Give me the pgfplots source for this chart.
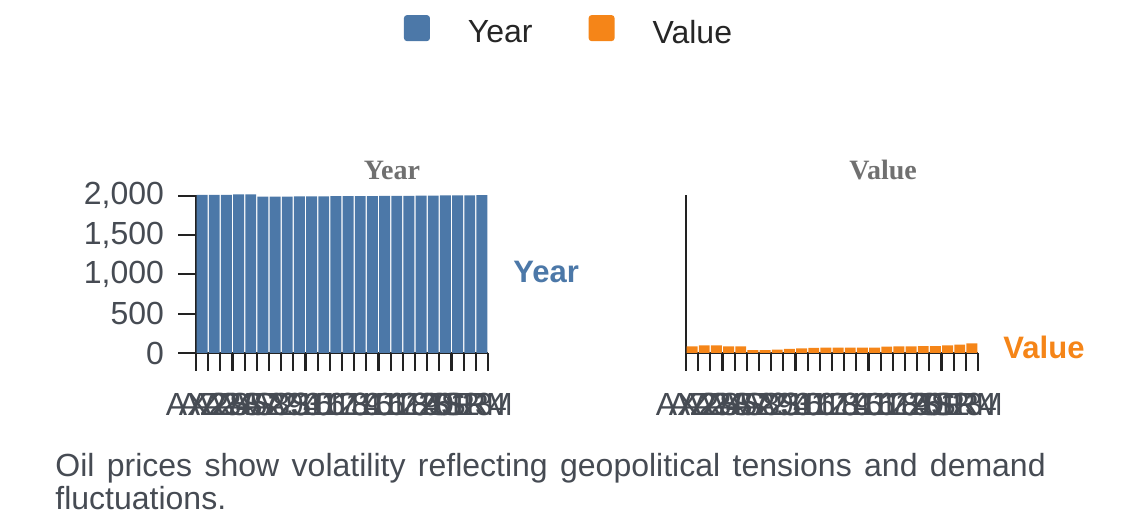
\documentclass[border=0pt]{standalone}
\usepackage{fontspec}
\setmainfont{Liberation Sans}
\newfontfamily\serifb{Liberation Serif}
\usepackage{pgfplots}
\usepackage{pgfplotstable}
\pgfplotsset{compat=1.18}
\definecolor{yblue}{HTML}{4C78A8}
\definecolor{vorange}{HTML}{F58518}
\definecolor{txtgray}{HTML}{464B53}
\definecolor{titlegray}{HTML}{707070}
\definecolor{axgray}{HTML}{222222}

\pgfplotstableread{
idx year value
0 2008 85
1 2009 98
2 2010 98
3 2016 85
4 2017 85
5 1986 38
6 1987 38
7 1988 42
8 1989 51
9 1990 60
10 1991 64
11 1992 67
12 1993 67
13 1994 67
14 1995 68
15 1996 68
16 1997 80
17 1998 85
18 2000 85
19 2001 86
20 2002 86
21 2003 98
22 2004 105
23 2005 123
}\oildata

\pgfplotsset{panel/.style={
  scale only axis, width=146pt, height=79pt,
  xmin=-0.5, xmax=23.5, ymin=0, ymax=2008,
  axis x line*=bottom, axis y line*=left,
  axis line style={line width=1.25pt, color=axgray, -},
  tick align=outside, major tick length=9pt,
  tick style={line width=1.1pt, color=axgray},
  xtick={-0.5,0.5,1.5,2.5,3.5,4.5,5.5,6.5,7.5,8.5,9.5,10.5,11.5,12.5,13.5,14.5,15.5,16.5,17.5,18.5,19.5,20.5,21.5,22.5,23.5},
  xticklabels={AX2,AZ2,A2S,A3S,A4S,A52,A72,A8S,A93,210,311,412,513,614,715,816,917,018,119,220,3S1,4S2,5R3,SR4,RM},
  xticklabel style={font=\fontsize{16}{19}\selectfont, text=txtgray, yshift=-7.5pt},
  yticklabel style={font=\fontsize{16}{19}\selectfont, text=txtgray, xshift=-3.5pt},
  scaled y ticks=false,
  /pgf/number format/1000 sep={,},
  /pgf/number format/assume math mode=true,
  clip=false,
}}

\begin{document}
\begin{tikzpicture}
\path[use as bounding box] (0,0) rectangle (570pt,264pt);

\begin{axis}[panel, at={(98pt,87.5pt)}, anchor=south west,
  ytick={0,500,1000,1500,2000},
  legend style={at={(1.274,2.04)}, anchor=center, draw=none, fill=none,
    inner sep=0pt, outer sep=0pt, legend columns=2,
    font=\fontsize{16}{19}\selectfont, text=black!85,
    nodes={inner sep=0pt},
    /tikz/every odd column/.append style={column sep=19pt},
    /tikz/every even column/.append style={column sep=28pt}},
  legend image code/.code={\fill[#1, draw=none, rounded corners=1.5pt] (0pt,-4pt) rectangle (13pt,9pt);},
]
\addplot[ybar, bar width=0.9, fill=yblue, draw=none, forget plot] table[x=idx, y=year]{\oildata};
\addlegendimage{fill=yblue, draw=none}
\addlegendentry{Year}
\addlegendimage{fill=vorange, draw=none}
\addlegendentry{Value}
\node[anchor=base, font=\serifb\bfseries\fontsize{14}{17}\selectfont, text=titlegray] at (rel axis cs:0.671,1.095) {Year};
\node[anchor=base, font=\bfseries\fontsize{15.5}{18}\selectfont, text=yblue] at (rel axis cs:1.199,0.443) {Year};
\end{axis}

\begin{axis}[panel, at={(343pt,87.5pt)}, anchor=south west,
  ytick=\empty,
]
\addplot[ybar, bar width=0.9, fill=vorange, draw=none] table[x=idx, y=value]{\oildata};
\node[anchor=base, font=\serifb\bfseries\fontsize{14}{17}\selectfont, text=titlegray] at (rel axis cs:0.675,1.095) {Value};
\node[anchor=base, font=\bfseries\fontsize{15.5}{18}\selectfont, text=vorange] at (rel axis cs:1.226,-0.032) {Value};
\end{axis}

\node[anchor=base west, inner sep=0pt, font=\fontsize{16}{19}\selectfont, text=txtgray] at (27.5pt,25.5pt) {\spaceskip=6.2pt\relax Oil prices show volatility reflecting geopolitical tensions and demand};
\node[anchor=base west, inner sep=0pt, font=\fontsize{16}{19}\selectfont, text=txtgray] at (27.5pt,9pt) {fluctuations.};
\end{tikzpicture}
\end{document}
